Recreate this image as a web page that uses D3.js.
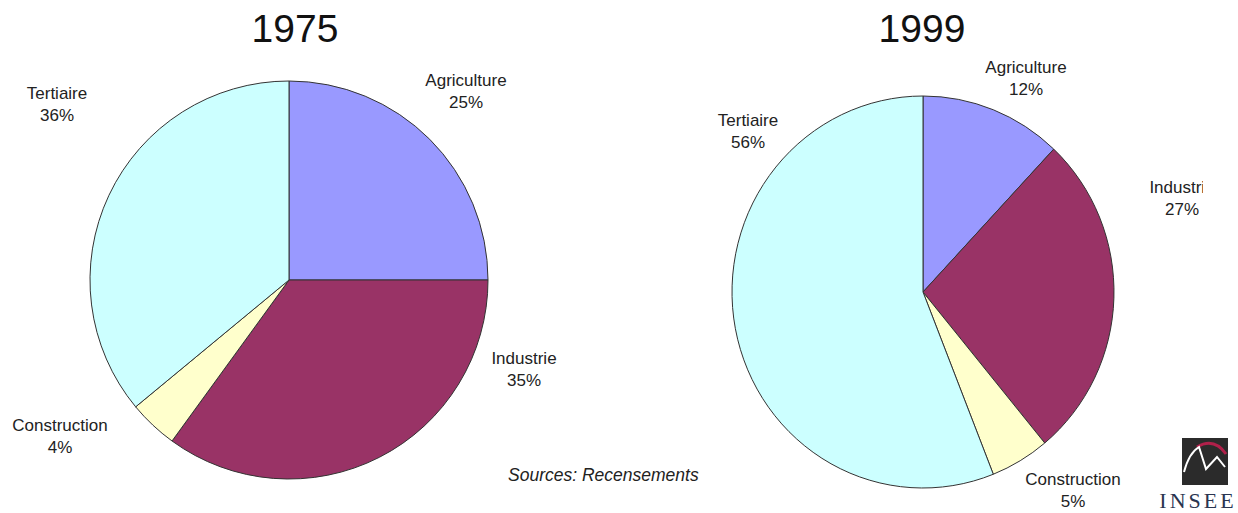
<!DOCTYPE html>
<html><head><meta charset="utf-8">
<script src="https://cdn.jsdelivr.net/npm/d3@7"></script>
<style>body{margin:0;background:#fff}svg{display:block}</style>
</head><body>
<svg id="c" width="1238" height="513"></svg>
<script>
// Data
const categories = ["Agriculture", "Industrie", "Construction", "Tertiaire"];
const years = ["1975", "1999"];
const values1975 = [25, 35, 4, 36];
const values1999 = [12, 27, 5, 56];
const colors = ["#9999ff", "#993366", "#ffffcc", "#ccffff"];

// Layout (not data)
const pies = [
  { values: values1975, cx: 289, cy: 280, rx: 199, ry: 199, titleX: 295,
    labels: [[466, 80], [524, 358], [60, 425], [57, 93]] },
  { values: values1999, cx: 923, cy: 292, rx: 191, ry: 196, titleX: 922,
    labels: [[1026, 67], [1182, 187], [1073, 479], [748, 120]] }
];

const svg = d3.select("#c");
const defs = svg.append("defs");
defs.append("clipPath").attr("id", "clipR").append("rect")
  .attr("x", 0).attr("y", 0).attr("width", 1203).attr("height", 513);

const pie = d3.pie().sort(null).value(d => d);
const R = 100;
const arc = d3.arc().innerRadius(0).outerRadius(R);

pies.forEach((p, i) => {
  const g = svg.append("g")
    .attr("transform", `translate(${p.cx},${p.cy}) scale(${p.rx / R},${p.ry / R})`);
  g.selectAll("path").data(pie(p.values)).join("path")
    .attr("d", arc)
    .attr("fill", (d, j) => colors[j])
    .attr("stroke", "#333")
    .attr("stroke-width", 1)
    .attr("vector-effect", "non-scaling-stroke");

  svg.append("text").attr("x", p.titleX).attr("y", 42)
    .attr("text-anchor", "middle")
    .style("font-family", "Liberation Sans, Arial, sans-serif")
    .style("font-size", "39px").attr("fill", "#111")
    .text(years[i]);

  const lg = svg.append("g").attr("clip-path", i === 1 ? "url(#clipR)" : null);
  p.values.forEach((v, j) => {
    const t = lg.append("text")
      .attr("text-anchor", "middle")
      .style("font-family", "Liberation Sans, Arial, sans-serif")
      .style("font-size", "17px").attr("fill", "#222");
    t.append("tspan").attr("x", p.labels[j][0]).attr("y", p.labels[j][1] + 6).text(categories[j]);
    t.append("tspan").attr("x", p.labels[j][0]).attr("y", p.labels[j][1] + 28).text(v + "%");
  });
});

svg.append("text").attr("x", 508).attr("y", 481)
  .style("font-family", "Liberation Sans, Arial, sans-serif")
  .style("font-style", "italic")
  .style("font-size", "17.5px").attr("fill", "#222")
  .text("Sources: Recensements");

// INSEE logo
const logo = svg.append("g");
logo.append("rect").attr("x", 1182).attr("y", 438).attr("width", 46).attr("height", 47).attr("fill", "#2b2b2b");
logo.append("path").attr("d", "M1197,447 Q1214,437 1226,454")
  .attr("fill", "none").attr("stroke", "#b0204a").attr("stroke-width", 3);
logo.append("path").attr("d", "M1184,472 Q1189,453 1199,447 L1206,469 L1217,457 L1225,467")
  .attr("fill", "none").attr("stroke", "#fff").attr("stroke-width", 2);
logo.append("text").attr("x", 1198).attr("y", 508).attr("text-anchor", "middle")
  .style("font-family", "Liberation Serif, DejaVu Serif, serif")
  .style("font-size", "22px").style("letter-spacing", "3px").attr("fill", "#2a3550")
  .text("INSEE");
</script>
</body></html>
